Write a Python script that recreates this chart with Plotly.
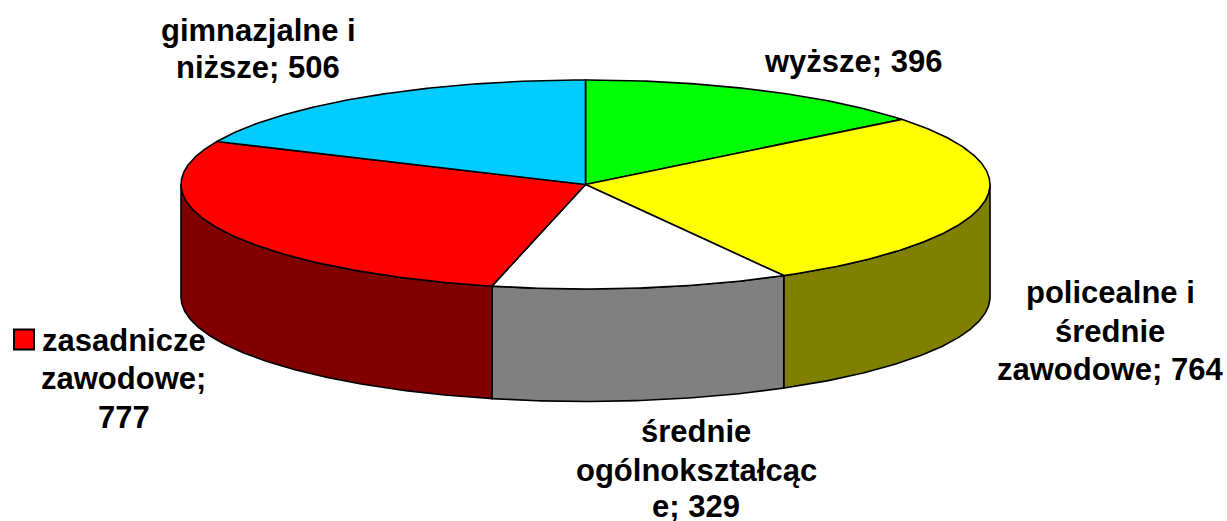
import math
import plotly.graph_objects as go

categories = ["wyższe", "policealne i średnie zawodowe", "średnie ogólnokształcące", "zasadnicze zawodowe", "gimnazjalne i niższe"]
values = [396, 764, 329, 777, 506]
top_colors = ["#00FF00", "#FFFF00", "#FFFFFF", "#FF0000", "#00CCFF"]
side_colors = ["#008000", "#808000", "#808080", "#800000", "#006680"]
label_lines = [["wyższe; 396"], ["policealne i", "średnie", "zawodowe; 764"], ["średnie", "ogólnokształcąc", "e; 329"], ["zasadnicze", "zawodowe;", "777"], ["gimnazjalne i", "niższe; 506"]]
label_x = [853, 1110, 696, 123.5, 258]
label_y = [[61], [292, 331, 369], [431, 470, 506], [340, 378, 417], [30, 67]]

W, H = 1227, 521
CX, CY, RX, RY, DEPTH = 585.5, 184.5, 404.5, 104.5, 112.5
FONT = "Liberation Sans, Arial, sans-serif"
total = sum(values)


def pt(deg, dy=0.0):
    a = math.radians(deg)
    return CX + RX * math.sin(a), CY - RY * math.cos(a) + dy


def arc(a0, a1, dy=0.0):
    n = max(2, int(abs(a1 - a0) * 2))
    return [pt(a0 + (a1 - a0) * i / n, dy) for i in range(n + 1)]


fig = go.Figure()
bounds = []
acc = 0
for v in values:
    bounds.append((acc / total * 360, (acc + v) / total * 360))
    acc += v


def poly(points, fill):
    fig.add_trace(go.Scatter(
        x=[p[0] for p in points], y=[p[1] for p in points],
        mode="lines", fill="toself", fillcolor=fill,
        line=dict(color="#000000", width=1.6), hoverinfo="skip", showlegend=False))


# side walls of the front half
for (a0, a1), col in zip(bounds, side_colors):
    lo, hi = max(a0, 90), min(a1, 270)
    if lo < hi:
        poly(arc(lo, hi) + arc(hi, lo, DEPTH) + [pt(lo)], col)

# top slices
for (a0, a1), col in zip(bounds, top_colors):
    poly([(CX, CY)] + arc(a0, a1) + [(CX, CY)], col)

# legend key beside the "zasadnicze" label
fig.add_trace(go.Scatter(
    x=[24], y=[339.5], mode="markers",
    marker=dict(symbol="square", size=20, color=top_colors[3], line=dict(color="#000000", width=2)),
    hoverinfo="skip", showlegend=False))

for x, ys, lines in zip(label_x, label_y, label_lines):
    for y, t in zip(ys, lines):
        fig.add_annotation(x=x, y=y, text="<b>" + t + "</b>", showarrow=False, align="center",
                           xanchor="center", yanchor="middle",
                           font=dict(family=FONT, size=31, color="#000000"))

fig.update_layout(
    width=W, height=H, margin=dict(l=0, r=0, t=0, b=0),
    paper_bgcolor="#FFFFFF", plot_bgcolor="#FFFFFF", showlegend=False,
    xaxis=dict(range=[0, W], visible=False, fixedrange=True),
    yaxis=dict(range=[H, 0], visible=False, fixedrange=True),
)
fig.write_html("out.html", config={"displayModeBar": False},
               post_script="document.body.style.margin='0';document.documentElement.style.overflow='hidden';")
